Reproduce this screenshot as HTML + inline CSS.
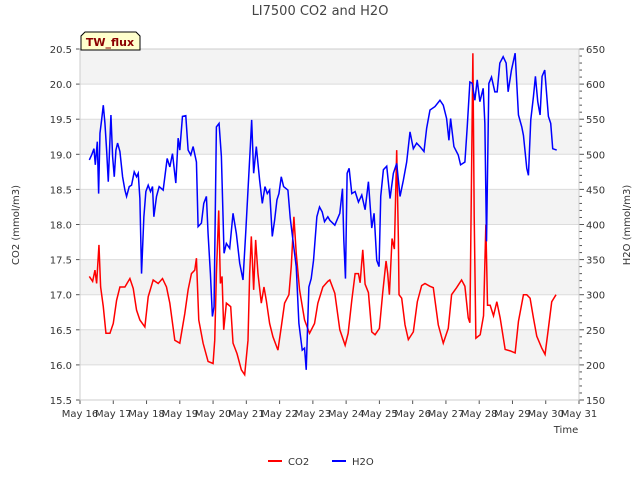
<!DOCTYPE html>
<html><head><meta charset="utf-8"><style>
body{margin:0;background:#fff;font-family:"Liberation Sans","DejaVu Sans",sans-serif}
svg text{font-family:"DejaVu Sans","Liberation Sans",sans-serif}
</style></head><body>
<svg id="chart" width="640" height="480" xmlns="http://www.w3.org/2000/svg"></svg>
<script>
const xTickLabels=["May 16","May 17","May 18","May 19","May 20","May 21","May 22","May 23","May 24","May 25","May 26","May 27","May 28","May 29","May 30","May 31"];
const leftTicks=[15.5,16.0,16.5,17.0,17.5,18.0,18.5,19.0,19.5,20.0,20.5];
const rightTicks=[150,200,250,300,350,400,450,500,550,600,650];
const co2T=[0.28,0.38,0.45,0.5,0.57,0.62,0.7,0.78,0.9,1.0,1.1,1.2,1.35,1.5,1.6,1.7,1.8,1.95,2.05,2.2,2.35,2.48,2.6,2.7,2.85,3.0,3.15,3.25,3.35,3.45,3.5,3.57,3.7,3.85,4.0,4.05,4.1,4.17,4.22,4.27,4.32,4.4,4.53,4.6,4.72,4.85,4.95,5.05,5.1,5.15,5.22,5.28,5.35,5.45,5.53,5.6,5.7,5.8,5.95,6.05,6.15,6.28,6.35,6.43,6.5,6.6,6.75,6.9,7.05,7.15,7.3,7.45,7.51,7.66,7.81,7.97,8.06,8.17,8.27,8.37,8.42,8.5,8.57,8.67,8.77,8.87,9.0,9.1,9.2,9.25,9.3,9.38,9.45,9.52,9.57,9.59,9.67,9.77,9.87,10.02,10.14,10.27,10.37,10.52,10.62,10.77,10.92,11.07,11.17,11.32,11.47,11.57,11.67,11.72,11.81,11.85,11.9,12.03,12.13,12.2,12.25,12.33,12.43,12.53,12.63,12.78,12.93,13.08,13.18,13.33,13.43,13.53,13.63,13.73,13.88,13.98,14.08,14.18,14.31];
const co2V=[17.26,17.19,17.35,17.16,17.71,17.11,16.83,16.45,16.45,16.59,16.92,17.11,17.11,17.23,17.09,16.78,16.64,16.54,16.97,17.21,17.16,17.23,17.11,16.88,16.35,16.31,16.73,17.07,17.3,17.35,17.52,16.64,16.31,16.05,16.02,16.35,17.3,18.2,17.16,17.26,16.5,16.88,16.83,16.31,16.16,15.93,15.86,16.35,17.3,17.83,17.07,17.78,17.3,16.88,17.11,16.92,16.59,16.4,16.21,16.54,16.88,17.0,17.4,18.11,17.59,17.07,16.64,16.45,16.59,16.88,17.11,17.19,17.21,17.02,16.5,16.28,16.45,16.92,17.3,17.3,17.17,17.64,17.15,17.03,16.47,16.43,16.52,17.03,17.48,17.3,17.0,17.8,17.65,19.06,17.8,17.0,16.95,16.57,16.36,16.47,16.9,17.13,17.16,17.12,17.1,16.57,16.31,16.52,17.0,17.1,17.21,17.12,16.67,16.6,20.44,18.1,16.38,16.43,16.7,18.0,16.85,16.85,16.7,16.9,16.67,16.22,16.2,16.17,16.62,17.0,17.0,16.95,16.67,16.41,16.24,16.15,16.52,16.9,17.0];
const h2oT=[0.28,0.35,0.42,0.46,0.52,0.56,0.6,0.65,0.7,0.75,0.8,0.85,0.93,0.98,1.03,1.08,1.13,1.2,1.28,1.35,1.4,1.48,1.55,1.63,1.7,1.75,1.8,1.85,1.92,1.98,2.05,2.12,2.18,2.22,2.3,2.38,2.5,2.62,2.7,2.78,2.88,2.95,3.0,3.08,3.18,3.25,3.33,3.4,3.5,3.55,3.65,3.72,3.8,3.85,3.92,3.98,4.03,4.1,4.18,4.25,4.33,4.4,4.5,4.6,4.7,4.8,4.9,4.98,5.05,5.12,5.16,5.22,5.3,5.4,5.48,5.56,5.63,5.7,5.78,5.85,5.92,5.98,6.05,6.12,6.25,6.32,6.4,6.5,6.58,6.68,6.75,6.8,6.88,6.95,7.02,7.12,7.2,7.28,7.35,7.45,7.51,7.66,7.81,7.89,7.93,7.98,8.03,8.09,8.17,8.27,8.37,8.47,8.57,8.67,8.77,8.84,8.92,8.99,9.04,9.12,9.22,9.32,9.42,9.52,9.62,9.72,9.82,9.92,10.02,10.12,10.22,10.34,10.42,10.52,10.67,10.82,10.92,11.02,11.09,11.14,11.24,11.37,11.44,11.57,11.64,11.72,11.79,11.87,11.94,12.02,12.12,12.17,12.22,12.29,12.37,12.47,12.54,12.62,12.72,12.81,12.87,12.97,13.08,13.18,13.28,13.33,13.43,13.48,13.55,13.63,13.69,13.76,13.83,13.89,13.97,14.08,14.15,14.21,14.33];
const h2oV=[492,499,508,485,518,444,530,549,570,544,506,461,556,497,468,506,516,504,468,449,440,454,456,475,468,473,437,330,411,447,456,447,454,411,440,454,449,494,482,501,459,523,506,554,555,506,499,511,489,397,402,430,440,387,330,269,283,539,544,497,359,373,366,416,387,345,321,387,449,511,549,473,511,463,430,454,444,449,383,406,435,444,468,454,449,409,378,340,259,221,224,193,311,323,349,411,425,418,404,411,406,399,416,451,378,323,473,480,444,447,432,442,421,461,395,416,349,340,440,478,483,437,473,487,440,463,489,532,508,516,511,504,537,563,568,577,570,551,520,551,511,499,485,489,539,603,601,577,606,575,594,544,376,601,610,589,589,630,639,630,589,620,644,556,539,527,480,470,549,582,611,575,556,611,620,554,544,508,506];

const NS="http://www.w3.org/2000/svg";
const svg=document.getElementById('chart');
const L=80,R=579,T=49,B=400;
const xS=t=>L+t*(R-L)/15;
const yL=v=>B-(v-15.5)*(B-T)/5;
const yR=v=>B-(v-150)*(B-T)/500;
function mk(tag,attrs,parent){const e=document.createElementNS(NS,tag);for(const k in attrs)e.setAttribute(k,attrs[k]);(parent||svg).appendChild(e);return e;}

const bg=mk('rect',{x:L,y:T,width:R-L,height:B-T,fill:'#ffffff'});


for(let i=0;i<leftTicks.length-1;i++){
  if(i%2===1){const b=mk('rect',{x:L,y:yL(leftTicks[i+1]),width:R-L,height:yL(leftTicks[i])-yL(leftTicks[i+1]),fill:'#f3f3f3'});
  
  }
}
leftTicks.forEach(v=>{
  const g=mk('line',{x1:L,x2:R,y1:yL(v),y2:yL(v),stroke:'#dcdcdc','stroke-width':1});
  
  
  mk('line',{x1:L-4,x2:L,y1:yL(v),y2:yL(v),stroke:'#555'});
  const t=mk('text',{x:L-8,y:yL(v)+4,'text-anchor':'end','font-size':10,fill:'#333'});
  t.textContent=v.toFixed(1);
  
  
});
for(let v=150;v<=650;v+=10){mk('line',{x1:R,x2:R+(v%50===0?5:3),y1:yR(v),y2:yR(v),stroke:'#555'});}
rightTicks.forEach(v=>{
  const t=mk('text',{x:R+7,y:yR(v)+4,'font-size':10,fill:'#333'});
  t.textContent=v;
  
  
});
xTickLabels.forEach((s,i)=>{
  mk('line',{x1:xS(i),x2:xS(i),y1:B,y2:B+4,stroke:'#555'});
  const t=mk('text',{x:xS(i),y:B+17,'text-anchor':'middle','font-size':10,fill:'#333'});
  t.textContent=s;
  
  
});
const fr=mk('rect',{x:L,y:T,width:R-L,height:B-T,fill:'none',stroke:'#cccccc'});



const co2=mk('polyline',{points:co2T.map((t,i)=>xS(t)+','+yL(co2V[i])).join(' '),fill:'none',stroke:'#ff0000','stroke-width':1.5});


const h2o=mk('polyline',{points:h2oT.map((t,i)=>xS(t)+','+yR(h2oV[i])).join(' '),fill:'none',stroke:'#0000ff','stroke-width':1.5});



function txt(s,a,name){const t=mk('text',a);t.textContent=s;return t;}
txt('LI7500 CO2 and H2O',{x:320,y:15,'text-anchor':'middle','font-size':13,fill:'#444'},'chart-title');
txt('Time',{x:566,y:433,'text-anchor':'middle','font-size':10,fill:'#333'},'x-axis-title');
txt('CO2 (mmol/m3)',{x:19,y:225,'text-anchor':'middle','font-size':10,fill:'#333',transform:'rotate(-90 19 225)'},'left-axis-title');
txt('H2O (mmol/m3)',{x:630,y:225,'text-anchor':'middle','font-size':10,fill:'#333',transform:'rotate(-90 630 225)'},'right-axis-title');

const tb=mk('path',{d:'M81,50 L81,36 L85,32 L136,32 L140,36 L140,50 Z',fill:'#ffffcc',stroke:'#000','stroke-width':1});


txt('TW_flux',{x:110,y:46,'text-anchor':'middle','font-size':11,'font-weight':'bold',fill:'#8b0000'},'site-label');

const l1=mk('line',{x1:268,x2:282,y1:461,y2:461,stroke:'#ff0000','stroke-width':2});


txt('CO2',{x:288,y:465,'font-size':10,fill:'#333'},'legend-co2-label');
const l2=mk('line',{x1:332,x2:346,y1:461,y2:461,stroke:'#0000ff','stroke-width':2});


txt('H2O',{x:352,y:465,'font-size':10,fill:'#333'},'legend-h2o-label');
</script>
</body></html>
